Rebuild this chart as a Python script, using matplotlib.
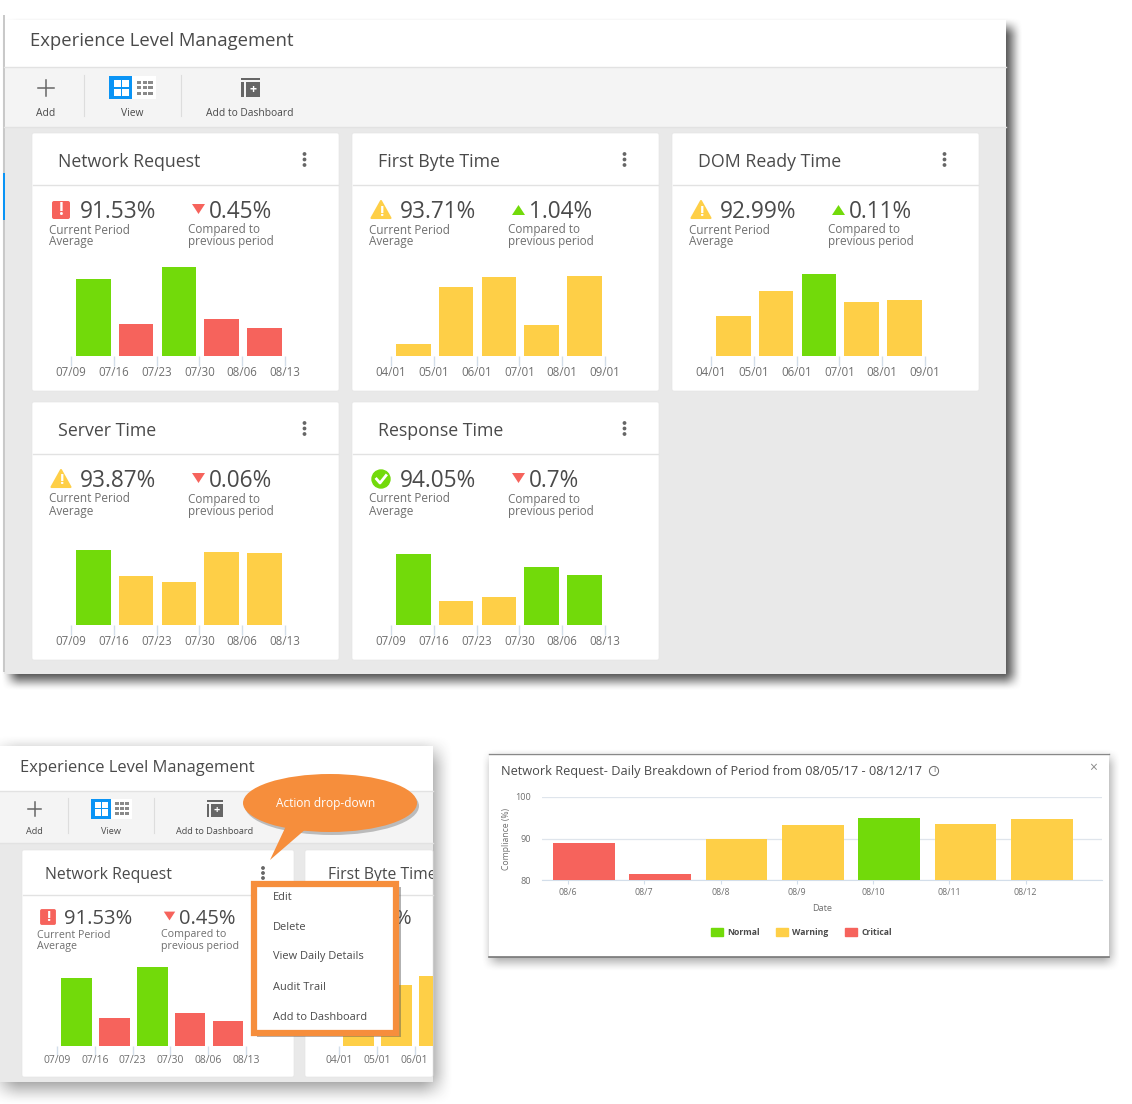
"""Experience Level Management dashboard mock-up, rebuilt with matplotlib."""

import matplotlib

matplotlib.use("Agg")
import matplotlib.pyplot as plt  # noqa: E402
import numpy as np  # noqa: E402
from matplotlib.patches import Circle, Ellipse, FancyBboxPatch, Patch, Polygon, Rectangle  # noqa: E402

W, H = 1132, 1104
GREEN = "#72da0a"
YELLOW = "#fecf47"
RED = "#f6635c"
ORANGE = "#f68e3c"
BLUE = "#0a94f5"
INK = "#4a4a4a"
MUTED = "#6f6f6f"
HEADER_LINE = "#e2e2e2"
TOOLBAR = "#f4f4f4"
BODY = "#e9e9e9"
TICK = "#d3deea"
STATUS = {"N": GREEN, "W": YELLOW, "C": RED}

plt.rcParams.update({"font.family": ["Open Sans", "DejaVu Sans"], "text.color": INK})

WEEKS = ["07/09", "07/16", "07/23", "07/30", "08/06", "08/13"]
MONTHS = ["04/01", "05/01", "06/01", "07/01", "08/01", "09/01"]

network_vals = [77, 32, 89, 37, 28]
network_status = ["N", "C", "N", "C", "C"]
first_byte_vals = [12, 69, 79, 31, 80]
first_byte_status = ["W", "W", "W", "W", "W"]
dom_ready_vals = [40, 65, 82, 54, 56]
dom_ready_status = ["W", "W", "N", "W", "W"]
server_vals = [75, 49, 43, 73, 72]
server_status = ["N", "W", "W", "W", "W"]
response_vals = [71, 24, 28, 58, 50]
response_status = ["N", "W", "W", "N", "N"]

daily_dates = ["08/6", "08/7", "08/8", "08/9", "08/10", "08/11", "08/12"]
daily_vals = [89.0, 81.4, 90.0, 93.2, 95.0, 93.6, 94.6]
daily_status = ["C", "C", "W", "W", "N", "W", "W"]
daily_yticks = [80, 90, 100]

menu_items = ["Edit", "Delete", "View Daily Details", "Audit Trail", "Add to Dashboard"]

fig = plt.figure(figsize=(W / 100, H / 100), dpi=100, facecolor="white")


def px_axes(x0, y0, x1, y1, zorder=1):
    """Axes placed by pixel box, y measured from the top of the image."""
    ax = fig.add_axes([x0 / W, 1 - y1 / H, (x1 - x0) / W, (y1 - y0) / H], zorder=zorder)
    ax.patch.set_alpha(0)
    return ax


def overlay(zorder):
    ax = px_axes(0, 0, W, H, zorder)
    ax.set_xlim(0, W)
    ax.set_ylim(H, 0)
    ax.axis("off")
    return ax


def rect(ax, x0, y0, x1, y1, color, **kw):
    ax.add_patch(Rectangle((x0, y0), x1 - x0, y1 - y0, facecolor=color, edgecolor="none", **kw))


def ramp(t):
    t = np.clip(t, 0, 1)
    return t * t * (3 - 2 * t)


def shadow(ax, x0, y0, x1, y1, dx, dy, blur, alpha):
    """Soft drop shadow drawn as an RGBA image under the panel."""
    xa, xb = x0 + dx - blur, x1 + dx + blur
    ya, yb = y0 + dy - blur, y1 + dy + blur
    xs = np.arange(xa, xb) + 0.5
    ys = np.arange(ya, yb) + 0.5
    px = ramp((xs - xa) / (2 * blur)) * ramp((xb - xs) / (2 * blur))
    py = ramp((ys - ya) / (2 * blur)) * ramp((yb - ys) / (2 * blur))
    img = np.zeros((len(ys), len(xs), 4))
    img[..., :3] = 0.2
    img[..., 3] = alpha * np.outer(py, px)
    ax.imshow(img, extent=(xa, xb, yb, ya), aspect="auto", zorder=0)
    ax.set_xlim(0, W)
    ax.set_ylim(H, 0)


def card_box(ax, x0, y0, x1, y1):
    ax.add_patch(FancyBboxPatch((x0 + 2, y0 + 2), x1 - x0 - 4, y1 - y0 - 4,
                                boxstyle="round,pad=2,rounding_size=2", facecolor="white",
                                edgecolor="#e6e6e6", linewidth=0.5))


def kebab(ax, x, y, gap=5.5):
    for k in (-gap, 0, gap):
        ax.add_patch(Circle((x, y + k), 1.2, color="#666666"))


def status_icon(ax, kind, x, y, s=1.0):
    if kind == "C":
        ax.add_patch(FancyBboxPatch((x - 8 * s, y - 8 * s), 16 * s, 16 * s,
                                    boxstyle=f"round,pad={s},rounding_size={2 * s}",
                                    facecolor=RED, edgecolor="none"))
        ax.text(x, y, "!", color="white", ha="center", va="center", fontsize=12 * s, weight="bold")
    elif kind == "W":
        ax.add_patch(Polygon([(x, y - 9 * s), (x + 9.5 * s, y + 8 * s), (x - 9.5 * s, y + 8 * s)],
                             closed=True, facecolor=YELLOW, edgecolor=YELLOW, linewidth=1.5,
                             joinstyle="round"))
        ax.text(x, y + 1.5 * s, "!", color="white", ha="center", va="center", fontsize=11 * s,
                weight="bold")
    else:
        ax.add_patch(Circle((x, y), 9 * s, color=GREEN))
        ax.plot([x - 4.5, x - 1, x + 5], [y, y + 4, y - 3.5], color="white", lw=2)


def delta_arrow(ax, up, x, y, s=1.0):
    if up:
        pts = [(x, y - 5 * s), (x + 6.5 * s, y + 5 * s), (x - 6.5 * s, y + 5 * s)]
        ax.add_patch(Polygon(pts, closed=True, facecolor=GREEN, edgecolor="none"))
    else:
        pts = [(x - 6.5 * s, y - 5 * s), (x + 6.5 * s, y - 5 * s), (x, y + 5 * s)]
        ax.add_patch(Polygon(pts, closed=True, facecolor=RED, edgecolor="none"))


def toolbar(ax, plus_x, y, sep1, tog_x, sep2, dash_x, s, fs, label_y):
    ax.plot([plus_x - 8 * s, plus_x + 8 * s], [y, y], color="#666666", lw=1.1)
    ax.plot([plus_x, plus_x], [y - 8 * s, y + 8 * s], color="#666666", lw=1.1)
    ax.text(plus_x, label_y, "Add", fontsize=fs, ha="center", va="center", color=INK)
    for sx in (sep1, sep2):
        ax.plot([sx, sx], [y - 13 * s, y + 28 * s], color="#dddddd", lw=0.8)
    # view toggle
    rect(ax, tog_x, y - 12 * s, tog_x + 23 * s, y + 11 * s, BLUE)
    rect(ax, tog_x + 23 * s, y - 12 * s, tog_x + 47 * s, y + 11 * s, "white")
    for cx in (tog_x + 4.5 * s, tog_x + 12.5 * s):
        for cy in (y - 8 * s, y + 0.5 * s):
            rect(ax, cx, cy, cx + 7 * s, cy + 7 * s, "white")
    for row in range(3):
        for col in range(3):
            cx = tog_x + (28 + col * 5.6) * s
            cy = y + (-7.5 + row * 5.5) * s
            rect(ax, cx, cy, cx + 4.4 * s, cy + 3.4 * s, "#8a8a8a")
    ax.text(tog_x + 23 * s, label_y, "View", fontsize=fs, ha="center", va="center", color=INK)
    # add-to-dashboard glyph
    rect(ax, dash_x - 9 * s, y - 10 * s, dash_x + 10 * s, y - 8 * s, "#666666")
    rect(ax, dash_x - 9 * s, y - 6 * s, dash_x - 6 * s, y + 9 * s, "#666666")
    rect(ax, dash_x - 4 * s, y - 6 * s, dash_x + 10 * s, y + 9 * s, "#666666")
    ax.text(dash_x + 3 * s, y + 1.5 * s, "+", color="white", fontsize=9 * s, ha="center",
            va="center", weight="bold")
    ax.text(dash_x, label_y, "Add to Dashboard", fontsize=fs, ha="center", va="center", color=INK)


def mini_bars(x0, spacing, base_y, vals, status, labels, scale=1.0, x_end=None, fs=8.3):
    x1 = x0 + spacing * 5 if x_end is None else x_end
    ax = px_axes(x0, base_y - 100 * scale, x1, base_y)
    ax.bar([i + 0.52 for i in range(len(vals))], vals, width=0.81,
           color=[STATUS[s] for s in status])
    ax.set_xlim(0, (x1 - x0) / spacing)
    ax.set_ylim(0, 100)
    ax.set_yticks([])
    ax.set_xticks(range(len(labels)))
    ax.set_xticklabels(labels, fontsize=fs, color=MUTED)
    ax.tick_params(axis="x", length=7 * scale, color=TICK, width=1, pad=0)
    for side in ax.spines:
        ax.spines[side].set_visible(False)
    return ax


def metric_card(ax, x0, y0, title, kind, value, delta, up, vals, status, labels):
    """x0, y0 is the top-left corner of a 307 x 258 card."""
    card_box(ax, x0, y0, x0 + 307, y0 + 258)
    ax.plot([x0 + 1, x0 + 306], [y0 + 51.5, y0 + 51.5], color=HEADER_LINE, lw=1)
    ax.text(x0 + 25.5, y0 + 29, title, fontsize=12.8, va="center", color=INK)
    kebab(ax, x0 + 272.5, y0 + 26.5)
    status_icon(ax, kind, x0 + 29, y0 + 77)
    ax.text(x0 + 47.5, y0 + 79, value, fontsize=16.3, va="center", color=INK)
    delta_arrow(ax, up, x0 + 166.5, y0 + (77 if up else 76))
    ax.text(x0 + 177, y0 + 79, delta, fontsize=16.3, va="center", color=INK)
    ax.text(x0 + 17, y0 + 97, "Current Period", fontsize=8.5, va="center", color=MUTED)
    ax.text(x0 + 17, y0 + 109, "Average", fontsize=8.5, va="center", color=MUTED)
    ax.text(x0 + 156.5, y0 + 97, "Compared to", fontsize=8.5, va="center", color=MUTED)
    ax.text(x0 + 156.5, y0 + 109, "previous period", fontsize=8.5, va="center", color=MUTED)
    mini_bars(x0 + 39, 42.8, y0 + 223, vals, status, labels)


bg = overlay(0)
fg = overlay(3)

# top dashboard panel
shadow(bg, 4, 20, 1006, 674, 7, 7, 10, 0.85)
rect(bg, 4, 20, 1006, 67, "white")
rect(bg, 4, 67, 1006, 127, TOOLBAR)
rect(bg, 4, 127, 1006, 674, BODY)
bg.plot([4, 1006], [66.5, 66.5], color=HEADER_LINE, lw=1)
bg.plot([4, 1006], [126.5, 126.5], color=HEADER_LINE, lw=1)
rect(bg, 3, 15, 5, 672, "#c9c9c9")
rect(bg, 3, 173, 5, 220, BLUE)
bg.text(30, 41.5, "Experience Level Management", fontsize=13.3, va="center", color=INK)
toolbar(bg, 45.5, 88, 83.5, 109, 180.5, 250, 1.0, 7.4, 113)

metric_card(bg, 32, 133, "Network Request", "C", "91.53%", "0.45%", False,
            network_vals, network_status, WEEKS)
metric_card(bg, 352, 133, "First Byte Time", "W", "93.71%", "1.04%", True,
            first_byte_vals, first_byte_status, MONTHS)
metric_card(bg, 672, 133, "DOM Ready Time", "W", "92.99%", "0.11%", True,
            dom_ready_vals, dom_ready_status, MONTHS)
metric_card(bg, 32, 402, "Server Time", "W", "93.87%", "0.06%", False,
            server_vals, server_status, WEEKS)
metric_card(bg, 352, 402, "Response Time", "N", "94.05%", "0.7%", False,
            response_vals, response_status, WEEKS)

# lower-left crop showing the action menu
shadow(bg, 0, 746, 433, 1082, 3, 6, 18, 0.55)
rect(bg, 0, 746, 433, 791, "white")
rect(bg, 0, 791, 433, 843, TOOLBAR)
rect(bg, 0, 843, 433, 1082, BODY)
bg.plot([0, 433], [790.5, 790.5], color=HEADER_LINE, lw=1)
bg.plot([0, 433], [842.5, 842.5], color=HEADER_LINE, lw=1)
bg.text(20.5, 768.5, "Experience Level Management", fontsize=11.9, va="center", color=INK)
toolbar(bg, 34.5, 809, 67.5, 91, 153.5, 214.5, 0.87, 6.6, 831)

card_box(bg, 22, 850, 294, 1077)
card_box(bg, 305, 850, 433, 1077)
bg.plot([23, 293], [895, 895], color=HEADER_LINE, lw=1)
bg.plot([306, 433], [895, 895], color=HEADER_LINE, lw=1)
bg.text(45, 875, "Network Request", fontsize=11.3, va="center", color=INK)
cut_title = bg.text(328, 875, "First Byte Time", fontsize=11.3, va="center", color=INK)
cut_title.set_clip_on(True)
cut_title.set_clip_path(Rectangle((0, 740), 433, 340, transform=bg.transData))
kebab(bg, 263, 873, gap=5)
status_icon(bg, "C", 48, 917, 0.88)
bg.text(64, 918.5, "91.53%", fontsize=14.5, va="center", color=INK)
delta_arrow(bg, False, 169.5, 916, 0.88)
bg.text(178.5, 918.5, "0.45%", fontsize=14.5, va="center", color=INK)
bg.text(37, 935, "Current Period", fontsize=7.7, va="center", color=MUTED)
bg.text(37, 946, "Average", fontsize=7.7, va="center", color=MUTED)
bg.text(161, 935, "Compared to", fontsize=7.7, va="center", color=MUTED)
bg.text(161, 946, "previous period", fontsize=7.7, va="center", color=MUTED)
bg.text(395, 918.5, "%", fontsize=14.5, va="center", color=INK)
mini_bars(57, 37.8, 1046, network_vals, network_status, WEEKS, scale=0.888, fs=7.5)
mini_bars(339, 37.8, 1046, first_byte_vals, first_byte_status, MONTHS[:3], scale=0.888,
          x_end=433, fs=7.5)

# callout and dropdown menu sit above the small charts
rect(fg, 257, 887, 401, 1037, "#555555", alpha=0.45)
rect(fg, 254, 884, 396, 1033, "white")
fg.add_patch(Rectangle((254, 884), 142, 149, facecolor="none", edgecolor=ORANGE, linewidth=4.5))
for item, y in zip(menu_items, range(897, 1018, 30)):
    fg.text(273, y, item, fontsize=7.9, va="center", color=INK)
fg.add_patch(Ellipse((332, 806), 174, 58, facecolor="#777777", alpha=0.45, edgecolor="none"))
fg.add_patch(Polygon([(286, 826), (307, 828), (270, 860)], closed=True, facecolor=ORANGE,
                     edgecolor="none"))
fg.add_patch(Ellipse((330, 803), 174, 58, facecolor=ORANGE, edgecolor="none"))
fg.text(326, 804, "Action drop-down", fontsize=8.6, color="white", ha="center", va="center")

# right-hand daily breakdown dialog
shadow(bg, 489, 753, 1109, 957, 2, 5, 10, 0.45)
rect(bg, 489, 753, 1109, 957, "white")
bg.plot([489, 1109], [753.5, 753.5], color="#888888", lw=1)
bg.plot([489, 1109], [956.5, 956.5], color="#777777", lw=1.2)
bg.text(501, 772, "Network Request- Daily Breakdown of Period from 08/05/17 - 08/12/17",
        fontsize=9.15, va="center", color=INK)
bg.add_patch(Circle((934, 771), 4.6, facecolor="none", edgecolor="#666666", linewidth=0.7))
bg.text(934, 771, "i", fontsize=6, ha="center", va="center", color="#666666")
bg.text(1093, 768, "×", fontsize=10, ha="center", va="center", color="#8a8a8a")

daily = px_axes(542, 797, 1102, 880)
daily_x = range(len(daily_dates))
daily.bar([i + 0.21 for i in daily_x], daily_vals, width=0.81,
          color=[STATUS[s] for s in daily_status], zorder=3)
daily.set_xlim(-0.34, 7.0)
daily.set_ylim(80, 100)
daily.set_yticks(daily_yticks)
daily.set_yticklabels(daily_yticks, fontsize=6.6, color=MUTED)
daily.set_xticks(list(daily_x))
daily.set_xticklabels(daily_dates, fontsize=6.3, color=MUTED)
daily.tick_params(axis="x", length=3, color=TICK, width=0.8, pad=3)
daily.tick_params(axis="y", length=0, pad=8)
daily.grid(axis="y", color="#dfe5ec", lw=0.9)
daily.set_axisbelow(True)
for side in ("top", "right", "left"):
    daily.spines[side].set_visible(False)
daily.spines["bottom"].set_color(TICK)
daily.set_xlabel("Date", fontsize=6.6, color=MUTED, labelpad=6)
daily.xaxis.set_label_coords(0.5, -0.29)
daily.set_ylabel("Compliance (%)", fontsize=6.2, color=MUTED)
daily.yaxis.set_label_coords(-0.055, 0.5)
handles = [Patch(color=GREEN, label="Normal"), Patch(color=YELLOW, label="Warning"),
           Patch(color=RED, label="Critical")]
leg = daily.legend(handles=handles, ncol=3, loc="center", bbox_to_anchor=(0.463, -0.63),
                   frameon=False, fontsize=6.2, handlelength=1.4, handleheight=1.2,
                   handletextpad=0.5, columnspacing=1.9, labelcolor=INK)
for t in leg.get_texts():
    t.set_fontweight("bold")

fig.savefig("out.png", dpi=100, facecolor="white")
